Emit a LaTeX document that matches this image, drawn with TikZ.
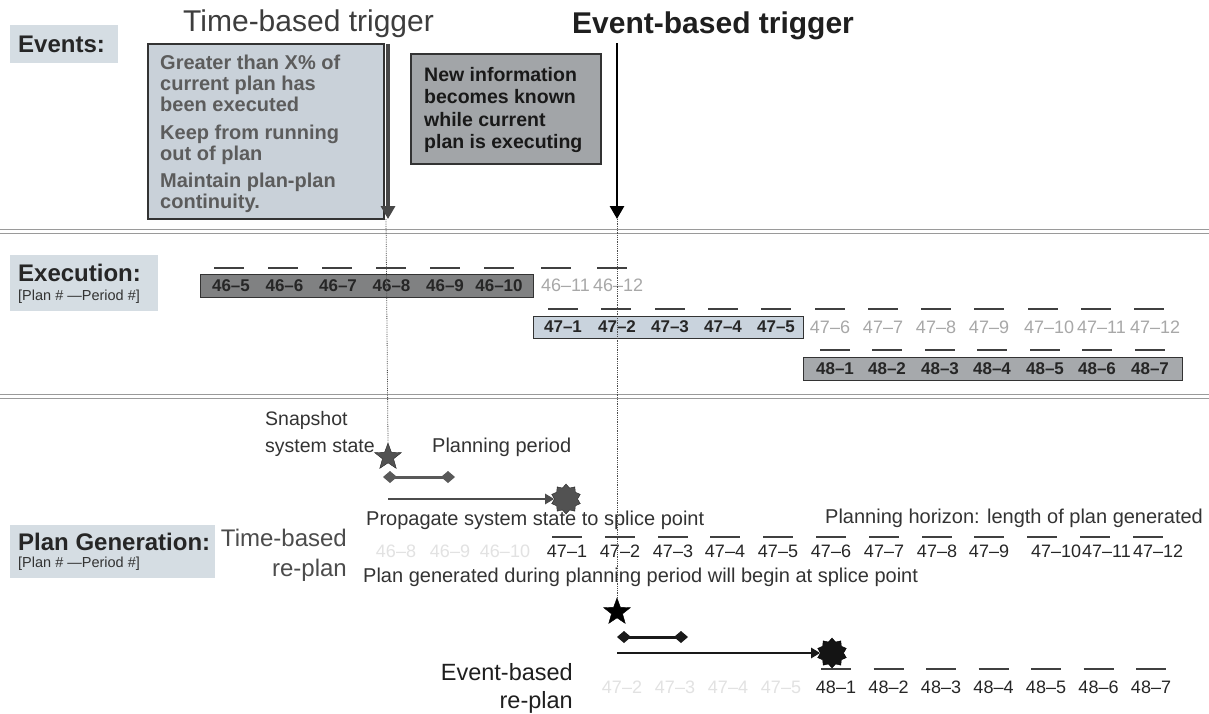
\documentclass[tikz,border=0pt]{standalone}
\usepackage{fontspec}
\setmainfont{Liberation Sans}
\usetikzlibrary{shapes.geometric,arrows.meta}
\definecolor{lblc}{HTML}{D5DDE3}
\definecolor{tboxc}{HTML}{C9D1D9}
\definecolor{eboxc}{HTML}{A2A5A8}
\definecolor{rowa}{HTML}{808182}
\definecolor{rowb}{HTML}{C9D3DD}
\definecolor{rowc}{HTML}{A6A9AC}
\definecolor{fadec}{HTML}{A8A8A8}
\definecolor{ghostc}{HTML}{E2E2E2}
\definecolor{sepc}{HTML}{9A9A9A}
\tikzset{
  hdrbox/.style={anchor=north west, inner sep=0pt, fill=lblc},
  htxt/.style={anchor=west, inner sep=0pt, font=\fontsize{24}{26}\selectfont\bfseries, text=black!85},
  hsub/.style={anchor=west, inner sep=0pt, font=\fontsize{14.5}{16}\selectfont, text=black!80},
  blab/.style={inner sep=0pt, font=\fontsize{17}{18}\selectfont\bfseries, text=black!85},
  flab/.style={inner sep=0pt, font=\fontsize{18}{19}\selectfont, text=fadec},
  plab/.style={inner sep=0pt, font=\fontsize{18}{19}\selectfont, text=black!85},
  glab/.style={inner sep=0pt, font=\fontsize{18}{19}\selectfont, text=ghostc},
  obar/.style={line width=1.6pt, draw=black!75},
  ptxt/.style={inner sep=0pt, font=\fontsize{20}{22}\selectfont, text=black!80},
  vdot/.style={densely dotted, line width=0.8pt, draw=black!70},
  sepl/.style={draw=sepc, line width=1pt},
  rowbox/.style={anchor=north west, inner sep=0pt, draw=black!80, line width=1pt},
  starmark/.style={star, star points=5, star point ratio=2.4, minimum size=28pt, inner sep=0pt},
  sealmark/.style={star, star points=10, star point ratio=1.3, minimum size=30pt, inner sep=0pt},
  dline/.style={line width=3pt, {Diamond[width=12pt,length=14pt]}-{Diamond[width=12pt,length=14pt]}},
  parrow/.style={line width=2.6pt, -{Triangle[width=10pt,length=9pt]}},
}
\begin{document}
\begin{tikzpicture}[x=1pt,y=-1pt]
\useasboundingbox (0,0) rectangle (1209,713);
\fill[white] (0,0) rectangle (1209,713);

% separators
\draw[sepl] (0,229) -- (1209,229);
\draw[sepl] (0,233) -- (1209,233);
\draw[sepl] (0,394) -- (1209,394);
\draw[sepl] (0,398) -- (1209,398);

% ---------- Events section ----------
\node[hdrbox, minimum width=108pt, minimum height=38pt] (evhdr) at (10,25) {};
\node[htxt] (evtxt) at (18,44) {Events:};

\node[anchor=west, inner sep=0pt, font=\fontsize{30}{31}\selectfont, text=black!76] (ttitle) at (183,24) {Time-based trigger};
\node[anchor=west, inner sep=0pt, font=\fontsize{30}{31}\selectfont\bfseries, text=black!88] (etitle) at (572,26) {Event-based trigger};

\node[anchor=north west, inner sep=0pt, draw=black!80, line width=1.5pt, fill=tboxc, minimum width=236pt, minimum height=175pt] (tbox) at (147,43) {};
\node[anchor=north west, inner sep=0pt, align=left, font=\fontsize{20}{21}\selectfont\bfseries, text=black!64] (ttext) at (160,55)
 {Greater than X\% of\\current plan has\\been executed\\[7pt]Keep from running\\out of plan\\[6pt]Maintain plan-plan\\continuity.};

\node[anchor=north west, inner sep=0pt, draw=black!80, line width=1.5pt, fill=eboxc, minimum width=190pt, minimum height=110pt] (ebox) at (410,53) {};
\node[anchor=north west, inner sep=0pt, align=left, font=\fontsize{19.5}{22.5}\selectfont\bfseries, text=black!90] (etext) at (424,67)
 {New information\\becomes known\\while current\\plan is executing};

\coordinate (tA) at (388,44);
\coordinate (tB) at (388,219);
\coordinate (eA) at (617,43);
\coordinate (eB) at (617,219);
\draw[line width=3.2pt, draw=black!72, -{Triangle[width=14pt,length=13pt]}] (tA) -- (tB);
\draw[line width=2.8pt, draw=black, -{Triangle[width=14pt,length=13pt]}] (eA) -- (eB);

% ---------- Execution section ----------
\node[hdrbox, minimum width=148pt, minimum height=56pt] (exhdr) at (10,255) {};
\node[htxt] (extxt) at (18,273) {Execution:};
\node[hsub] (exsub) at (18,297) {[Plan \# ---Period \#]};

\node[rowbox, fill=rowa, minimum width=333pt, minimum height=23pt] (boxa) at (200,274) {};
\node[rowbox, fill=rowb, minimum width=270pt, minimum height=22pt] (boxb) at (533,316) {};
\node[rowbox, fill=rowc, minimum width=379pt, minimum height=23pt] (boxc) at (803,357) {};

\foreach \t/\x [count=\i] in {46--5/231, 46--6/284.5, 46--7/338, 46--8/391.5, 46--9/445, 46--10/499} {
  \node[blab] (ra\i) at (\x,285.5) {\t};
}
\foreach \x in {229,283,337,391,445,499,556,612} { \draw[obar] (\x-15,268) -- (\x+15,268); }
\node[flab, anchor=west] (ra7) at (541,285.5) {46--11};
\node[flab, anchor=west] (ra8) at (593,285.5) {46--12};

\foreach \t/\x [count=\i] in {47--1/563, 47--2/617, 47--3/670, 47--4/723, 47--5/776} {
  \node[blab] (rb\i) at (\x,327) {\t};
}
\foreach \t/\x [count=\i from 6] in {47--6/830, 47--7/883, 47--8/936, 47--9/989} {
  \node[flab] (rb\i) at (\x,327) {\t};
}
\node[flab, anchor=west] (rb10) at (1024,327) {47--10};
\node[flab, anchor=west] (rb11) at (1077,327) {47--11};
\node[flab, anchor=west] (rb12) at (1130,327) {47--12};
\foreach \x in {563,616,670,723,776,830,883,936,989,1043,1096,1149} { \draw[obar] (\x-15,309) -- (\x+15,309); }

\foreach \t/\x [count=\i] in {48--1/835, 48--2/887, 48--3/940, 48--4/992, 48--5/1045, 48--6/1097, 48--7/1150} {
  \node[blab] (rc\i) at (\x,368.5) {\t};
  \draw[obar] (\x-15,350) -- (\x+15,350);
}

% ---------- Plan generation section ----------
\node[hdrbox, minimum width=205pt, minimum height=53pt] (pghdr) at (10,525) {};
\node[htxt] (pgtxt) at (18,542) {Plan Generation:};
\node[hsub] (pgsub) at (18,564) {[Plan \# ---Period \#]};

\node[anchor=north east, inner sep=0pt, align=right, font=\fontsize{24}{30}\selectfont, text=black!70] (treplan) at (347,529) {Time-based\\re-plan};
\node[anchor=north east, inner sep=0pt, align=right, font=\fontsize{23.5}{28}\selectfont, text=black!88] (ereplan) at (573,663) {Event-based\\re-plan};

% time-based replan marks
\node[starmark, fill=black!68, draw=black!85] (tstar) at (388,457) {};
\node[sealmark, fill=black!68, draw=black!85] (tseal) at (566,499) {};
\coordinate (tdA) at (383,477);
\coordinate (tdB) at (455,477);
\coordinate (tpA) at (388,499);
\draw[dline, draw=black!65, fill=black!65] (tdA) -- (tdB);
\draw[parrow, draw=black!70, fill=black!70] (tpA) -- (tseal.west);

\node[anchor=north west, inner sep=0pt, align=left, font=\fontsize{19.5}{27}\selectfont, text=black!80] (snap) at (265,411) {Snapshot\\system state};
\node[ptxt, anchor=west] (pperiod) at (432,447) {Planning period};
\node[ptxt, anchor=west] (propag) at (366,520) {Propagate system state to splice point};
\node[ptxt, anchor=west] (phoriz) at (825,518) {Planning horizon: length of plan generated};
\node[ptxt, anchor=west] (pgen) at (363,577) {Plan generated during planning period will begin at splice point};

\foreach \t/\x [count=\i] in {46--8/396, 46--9/450, 46--10/505} {
  \node[glab] (pa\i) at (\x,551) {\t};
}
\foreach \t/\x [count=\i] in {47--1/567, 47--2/620, 47--3/673, 47--4/725, 47--5/778, 47--6/831, 47--7/884, 47--8/937, 47--9/989} {
  \node[plab] (pb\i) at (\x,551) {\t};
}
\node[plab, anchor=west] (pb10) at (1031,551) {47--10};
\node[plab, anchor=west] (pb11) at (1082,551) {47--11};
\node[plab, anchor=west] (pb12) at (1133,551) {47--12};
\foreach \x in {567,620,673,725,778,831,884,937,989,1042,1095,1148} { \draw[obar] (\x-15,537) -- (\x+15,537); }

% event-based replan marks
\node[starmark, fill=black, draw=black] (estar) at (617,612) {};
\node[sealmark, fill=black!92, draw=black] (eseal) at (832,653) {};
\coordinate (edA) at (617,637);
\coordinate (edB) at (688,637);
\coordinate (epA) at (617,653);
\draw[dline, draw=black!90, fill=black!90] (edA) -- (edB);
\draw[parrow, draw=black!90, fill=black!90] (epA) -- (eseal.west);

\foreach \t/\x [count=\i] in {47--2/622, 47--3/675, 47--4/728, 47--5/781} {
  \node[glab] (qa\i) at (\x,687) {\t};
}
\foreach \t/\x [count=\i] in {48--1/836, 48--2/888.5, 48--3/941, 48--4/993.5, 48--5/1046, 48--6/1098.5, 48--7/1151} {
  \node[plab] (qb\i) at (\x,687) {\t};
  \draw[obar] (\x-15,669) -- (\x+15,669);
}

% trigger guide lines
\coordinate (tG) at (386,219);
\draw[vdot] (tG) -- (tstar.north);
\draw[vdot] (eB) -- (estar.north);
\end{tikzpicture}
\end{document}
